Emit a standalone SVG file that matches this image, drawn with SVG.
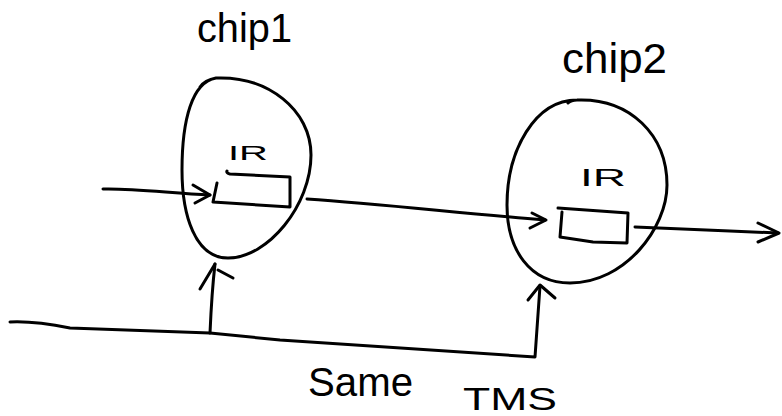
<svg xmlns="http://www.w3.org/2000/svg" width="782" height="416" viewBox="0 0 782 416">
  <style>
    .ink { fill: none; stroke: #000; stroke-width: 3; stroke-linecap: round; stroke-linejoin: round; }
    .hand { font-family: "Liberation Sans", "DejaVu Sans", sans-serif; fill: #000; }
  </style>
  <rect width="782" height="416" fill="#fff"/>

  <!-- chip 1: egg-shaped outline with the IR register inside -->
  <g id="chip1">
    <text class="hand" x="197" y="42" font-size="40" textLength="95" lengthAdjust="spacingAndGlyphs">chip1</text>
    <path class="ink" d="M200,87 Q205,80 216,78 C268,76 311,110 311,155 C311,205 268,258 228,258 C195,258 182,215 182,170 C182,120 192,82 216,78"/>
    <text class="hand" x="228" y="160" font-size="21" textLength="40" lengthAdjust="spacingAndGlyphs">IR</text>
    <path class="ink" d="M217,183 L213,202 L290,207 L290,177 L230,174 Q226,173 227,171"/>
  </g>

  <!-- chip 2 -->
  <g id="chip2">
    <text class="hand" x="562" y="73" font-size="42" textLength="105" lengthAdjust="spacingAndGlyphs">chip2</text>
    <path class="ink" d="M568,103 Q571,100 577,100 C630,98 667,135 667,185 C667,228 625,283 570,283 C530,283 507,250 507,205 C507,150 535,100 577,100"/>
    <text class="hand" x="580" y="186" font-size="23" textLength="46" lengthAdjust="spacingAndGlyphs">IR</text>
    <path class="ink" d="M558,208 L628,213 L627,243 L593,242 L560,237 L562,212"/>
  </g>

  <!-- signal paths and the shared TMS line -->
  <g id="connectors">
    <path class="ink" d="M103,189 C130,188 170,193 210,195"/>
    <path class="ink" d="M193,185 L210,195 L195,203"/>

    <path class="ink" d="M307,199 C380,204 450,212 545,220"/>
    <path class="ink" d="M532,213 L546,220 L530,228"/>

    <path class="ink" d="M635,227 C690,229 730,231 778,233"/>
    <path class="ink" d="M758,223 L779,233 L758,242"/>

    <path class="ink" d="M10,322 C30,321 50,324 70,328 L210,333 L280,340 L535,357 L540,286"/>
    <path class="ink" d="M528,300 L540,285 L555,298"/>

    <path class="ink" d="M210,333 C211,310 212,290 215,264"/>
    <path class="ink" d="M200,289 L215,264"/>
    <path class="ink" d="M218,270 L233,278"/>
  </g>

  <!-- caption under the shared line -->
  <g id="caption">
    <text class="hand" x="308" y="396" font-size="40" textLength="105" lengthAdjust="spacingAndGlyphs">Same</text>
    <text class="hand" x="463" y="410" font-size="31" textLength="94" lengthAdjust="spacingAndGlyphs">TMS</text>
  </g>
</svg>
